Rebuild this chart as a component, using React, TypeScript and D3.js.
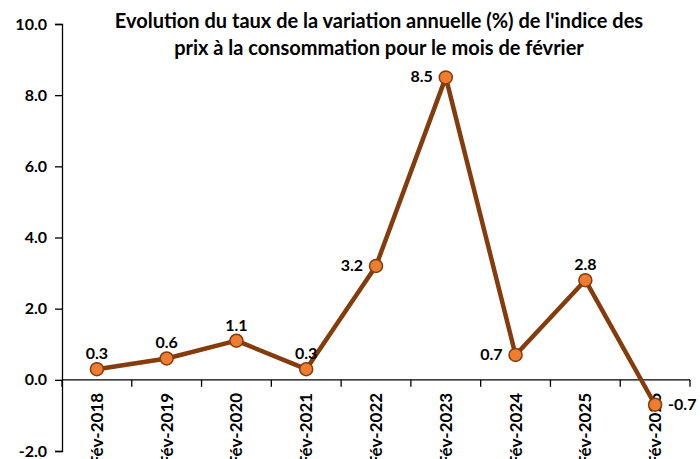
import { useEffect, useRef } from 'react';
import * as d3 from 'd3';

const categories = ['Fév-2018', 'Fév-2019', 'Fév-2020', 'Fév-2021', 'Fév-2022', 'Fév-2023', 'Fév-2024', 'Fév-2025', 'Fév-2026'];
const values = [0.3, 0.6, 1.1, 0.3, 3.2, 8.5, 0.7, 2.8, -0.7];
// where each data label sits relative to its point
const labelPos = ['top', 'top', 'top', 'top', 'left', 'left', 'left', 'top', 'right'];
const yTicks = [-2, 0, 2, 4, 6, 8, 10];
const titleLines = [
  "Evolution du taux de la variation annuelle (%) de l'indice des",
  'prix à la consommation pour le mois de février',
];

const FONT = 'Lato, "Open Sans", sans-serif';
// Excel style: plain hyphen for negatives
const fmt = (v: number) => v.toFixed(1);

export default function App() {
  const svgRef = useRef<SVGSVGElement>(null);

  useEffect(() => {
    if (!svgRef.current) return;
    const svg = d3.select(svgRef.current);
    svg.selectAll('*').remove();

    const width = 700;
    const height = 459;
    svg.attr('width', width).attr('height', height);

    svg.append('rect').attr('width', width).attr('height', height).attr('fill', '#ffffff');

    const x = d3.scaleBand<string>().domain(categories).range([62, 690]);
    const y = d3.scaleLinear().domain([-2, 10]).range([451, 24]);

    // title
    svg.append('g')
      .selectAll('text')
      .data(titleLines)
      .enter().append('text')
      .attr('x', 379)
      .attr('y', (_d, i) => 28 + i * 27)
      .attr('text-anchor', 'middle')
      .style('font-family', FONT)
      .style('font-weight', 'bold')
      .style('font-size', '20px')
      .style('fill', '#000')
      .text(d => d);

    // y axis
    const yAxis = svg.append('g')
      .attr('transform', `translate(${x.range()[0]},0)`)
      .call(d3.axisLeft(y).tickValues(yTicks).tickSize(7).tickPadding(8).tickFormat(d => fmt(d as number)));
    yAxis.select('.domain').attr('stroke', '#000').attr('stroke-width', 1.3);
    yAxis.selectAll('.tick line').attr('stroke', '#000').attr('stroke-width', 1.3);
    yAxis.selectAll('.tick text')
      .style('font-family', FONT)
      .style('font-weight', 'bold')
      .style('font-size', '16px')
      .style('fill', '#000');

    // x axis at zero, ticks on category boundaries
    const y0 = y(0);
    const xAxis = svg.append('g').attr('transform', `translate(0,${y0})`);
    xAxis.append('line')
      .attr('x1', x.range()[0]).attr('x2', x.range()[1])
      .attr('stroke', '#000').attr('stroke-width', 1.3);
    const bounds = categories.map(c => x(c) as number).concat([x.range()[1]]);
    xAxis.selectAll('.xtick')
      .data(bounds)
      .enter().append('line')
      .attr('class', 'xtick')
      .attr('x1', d => d).attr('x2', d => d)
      .attr('y1', 0).attr('y2', 7)
      .attr('stroke', '#000').attr('stroke-width', 1.3);
    xAxis.selectAll('.xlabel')
      .data(categories)
      .enter().append('text')
      .attr('class', 'xlabel')
      .attr('transform', d => `translate(${(x(d) as number) + x.bandwidth() / 2 + 6},13) rotate(-90)`)
      .attr('text-anchor', 'end')
      .style('font-family', FONT)
      .style('font-weight', 'bold')
      .style('font-size', '17px')
      .style('fill', '#000')
      .text(d => d);

    const cx = (i: number) => (x(categories[i]) as number) + x.bandwidth() / 2;

    const line = d3.line<number>()
      .x((_d, i) => cx(i))
      .y(d => y(d));

    svg.append('path')
      .datum(values)
      .attr('fill', 'none')
      .attr('stroke', '#843C0C')
      .attr('stroke-width', 4.5)
      .attr('stroke-linejoin', 'round')
      .attr('d', line);

    svg.selectAll('.dot')
      .data(values)
      .enter().append('circle')
      .attr('class', 'dot')
      .attr('cx', (_d, i) => cx(i))
      .attr('cy', d => y(d))
      .attr('r', 6.5)
      .attr('fill', '#ED7D31')
      .attr('stroke', '#843C0C')
      .attr('stroke-width', 1.5);

    svg.selectAll('.vlabel')
      .data(values)
      .enter().append('text')
      .attr('class', 'vlabel')
      .attr('x', (_d, i) => {
        const p = labelPos[i];
        if (p === 'left') return cx(i) - 13;
        if (p === 'right') return cx(i) + 13;
        return cx(i);
      })
      .attr('y', (d, i) => labelPos[i] === 'top' ? y(d) - 10 : y(d) + 5)
      .attr('text-anchor', (_d, i) => labelPos[i] === 'left' ? 'end' : labelPos[i] === 'right' ? 'start' : 'middle')
      .style('font-family', FONT)
      .style('font-weight', 'bold')
      .style('font-size', '16px')
      .style('fill', '#000')
      .text(d => fmt(d));
  }, []);

  return (
    <div style={{ position: 'absolute', left: 0, top: 0 }}>
      <svg ref={svgRef}></svg>
    </div>
  );
}
